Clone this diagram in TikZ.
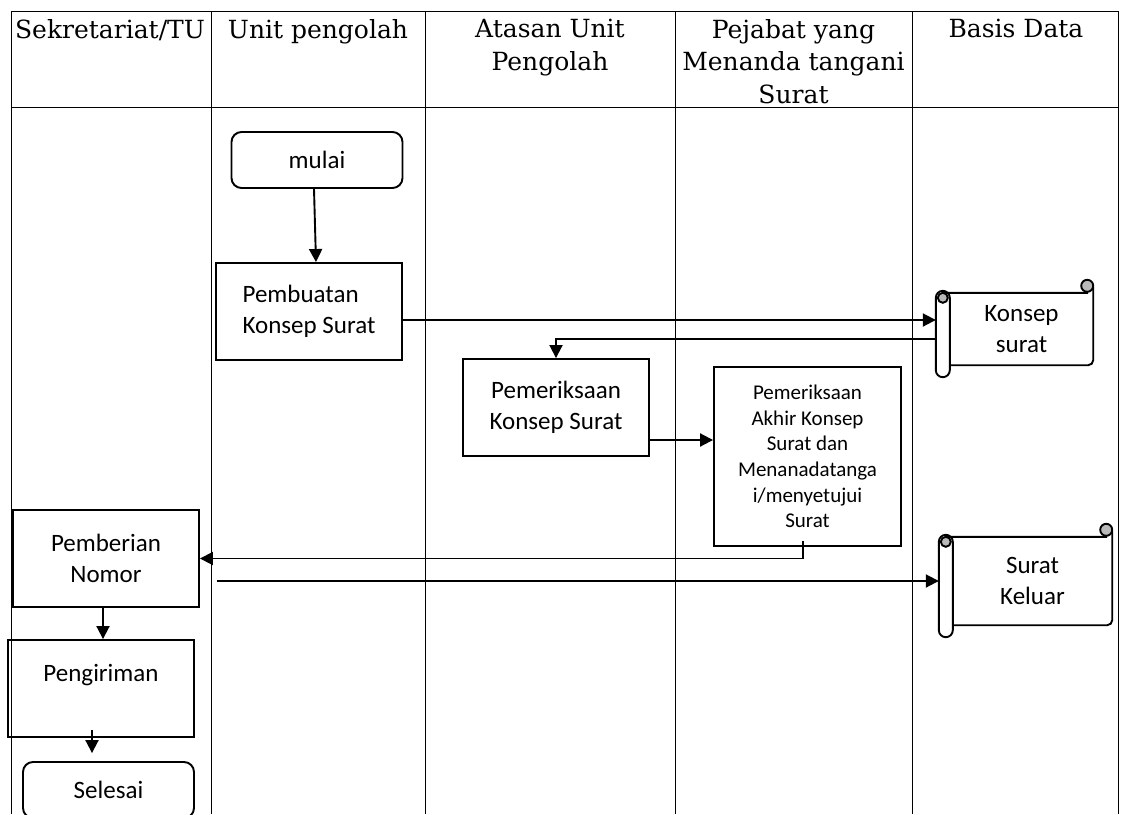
\documentclass[tikz,border=0pt]{standalone}
\usepackage{fontspec}
\setmainfont{Carlito}
\newfontfamily\headfont{DejaVu Serif}
\usetikzlibrary{arrows.meta, calc}

% scroll outline round a text node
\newcommand{\scrollframe}[1]{%
  \draw[line width=1.9pt] let \p1=(#1.north west), \p2=(#1.south east) in
    (\x1-7pt,\y1) -- (\x2-6pt,\y1) -- (\x2-6pt,\y1+6pt)
    (\x2,\y1+6pt) -- (\x2,\y2+5pt) arc[start angle=0, end angle=-90, radius=5pt] -- (\x1,\y2);
  \filldraw[line width=1.9pt, fill=gray!55] let \p1=(#1.north west), \p2=(#1.south east) in
    (\x2-6pt,\y1+7pt) circle[radius=6pt]
    (\x1-7pt,\y1-5pt) circle[radius=5pt];
  \draw[line width=1.9pt, rounded corners=7pt] let \p1=(#1.north west), \p2=(#1.south east) in
    (\x1-14pt,\y2-12pt) rectangle (\x1,\y1+2pt);
}

\begin{document}
\begin{tikzpicture}[x=1pt, y=-1pt,
  grid/.style={line width=1pt},
  proc/.style={draw, line width=1.9pt, minimum width=186pt, minimum height=97pt,
    align=center, inner sep=0pt, font=\fontsize{25}{30.5}\selectfont},
  term/.style={proc, rounded corners=10pt, minimum width=171pt, minimum height=56pt},
  head/.style={anchor=north, align=center, inner sep=0pt,
    font=\headfont\fontsize{25}{32.5}\selectfont},
  scrolltext/.style={align=center, inner sep=0pt, font=\fontsize{25}{30.5}\selectfont},
  flow/.style={line width=1.9pt, -{Triangle[length=13pt, width=13pt]}}]
  \useasboundingbox (0,0) rectangle (1124,814);
  \clip (0,0) rectangle (1124,814);

  % swimlanes
  \foreach \x in {11,211,425,675,912,1118}
    \draw[grid] (\x,11) -- (\x,814);
  \draw[grid] (11,11) -- (1118,11) (11,107) -- (1118,107);

  \node[head] (sekretariat) at (110,19) {Sekretariat/TU};
  \node[head] (unit) at (318,19) {Unit pengolah};
  \node[head] (atasan) at (550,19) {Atasan Unit\\Pengolah};
  \node[head] (pejabat) at (793.5,19) {Pejabat yang\\Menanda tangani\\Surat};
  \node[head] (basis) at (1016,19) {Basis Data};

  % steps
  \node[term] (mulai) at (317,160) {mulai};
  \node[proc, align=left] (pembuatan) at (309,311.5) {Pembuatan\\Konsep Surat};
  \node[proc] (pemeriksaan) at (556,407.5) {Pemeriksaan\\Konsep Surat};
  \node[proc, minimum width=187pt, minimum height=179pt,
    font=\fontsize{21}{25.6}\selectfont] (akhir) at (807.5,456.5)
    {Pemeriksaan\\Akhir Konsep\\Surat dan\\Menanadatanga\\i/menyetujui\\Surat};
  \node[proc] (pemberian) at (106,558.5) {Pemberian\\Nomor};
  \node[proc] (pengiriman) at (101,688.5) {Pengiriman\\ \mbox{}};
  \node[term] (selesai) at (108.5,790) {Selesai};

  % data stores
  \node[scrolltext, minimum width=143pt, minimum height=72pt] (konsep) at (1021.5,329) {Konsep\\surat};
  \scrollframe{konsep}
  \coordinate (konsep-roll) at ([xshift=-14pt]konsep.west);
  \node[scrolltext, minimum width=159pt, minimum height=88pt] (keluar) at (1032.5,581) {Surat\\Keluar};
  \scrollframe{keluar}
  \coordinate (keluar-roll) at ([xshift=-14pt]keluar.west);

  % flow
  \draw[flow] ([xshift=-3pt]mulai.south) -- ([xshift=7pt]pembuatan.north);
  \draw[flow] ([yshift=-8.5pt]pembuatan.east) -- ([yshift=-8.5pt]pembuatan.east -| konsep-roll);
  \draw[flow] ([yshift=-10pt]konsep-roll) -| (pemeriksaan.north);
  \draw[flow] ([yshift=-32.5pt]pemeriksaan.east) -- ([yshift=-32.5pt]pemeriksaan.east -| akhir.west);
  \draw[flow] ([xshift=-4.5pt,yshift=6pt]akhir.south) |- (pemberian.east);
  \draw[flow] ([xshift=17pt]pemberian.east |- keluar.west) -- (keluar-roll);
  \draw[flow] ([xshift=-3pt]pemberian.south) -- ([xshift=-3pt]pemberian.south |- pengiriman.north);
  \draw[flow] ([xshift=-9pt,yshift=8pt]pengiriman.south) -- ([xshift=-9pt,yshift=8pt]pengiriman.south |- selesai.north);
\end{tikzpicture}
\end{document}
